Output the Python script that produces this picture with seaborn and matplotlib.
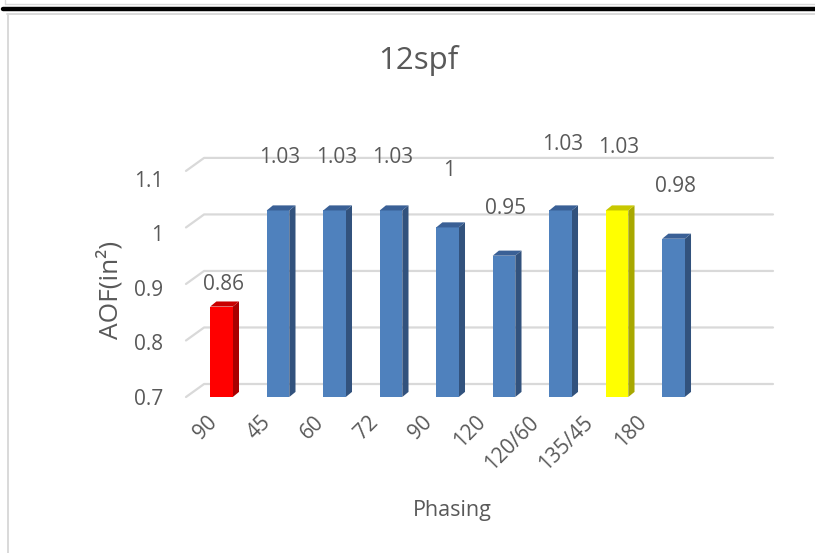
import numpy as np
import pandas as pd
import seaborn as sns
import matplotlib.pyplot as plt
import matplotlib.transforms as mtransforms
from matplotlib.lines import Line2D
from matplotlib.patches import Polygon

# chart data
phasing = ["90", "45", "60", "72", "90", "120", "120/60", "135/45", "180"]
aof = [0.86, 1.03, 1.03, 1.03, 1.00, 0.95, 1.03, 1.03, 0.98]
value_labels = ["0.86", "1.03", "1.03", "1.03", "1", "0.95", "1.03", "1.03", "0.98"]
y_ticks = [0.7, 0.8, 0.9, 1.0, 1.1]
y_tick_labels = ["0.7", "0.8", "0.9", "1", "1.1"]

# styling (Excel 3D column look)
front = {"red": "#FF0000", "blue": "#4F81BD", "yellow": "#FFFF00"}
side = {"red": "#A80000", "blue": "#32527D", "yellow": "#A8A800"}
top = {"red": "#C80000", "blue": "#3A6096", "yellow": "#C8C800"}
bar_kind = ["red", "blue", "blue", "blue", "blue", "blue", "blue", "yellow", "blue"]
label_lift = [22, 53, 53, 53, 57, 47, 66, 63, 52]  # px above bar top, as Excel placed them
text_col = "#595959"
grid_col = "#D9D9D9"

sns.set_theme(style="white")
plt.rcParams["font.family"] = ["Open Sans", "DejaVu Sans"]

W, H = 815, 553
fig = plt.figure(figsize=(W / 100, H / 100), dpi=100)
ax = fig.add_axes([186 / W, (H - 397) / H, 587 / W, 247 / H])

df = pd.DataFrame({"pos": np.arange(len(aof)), "aof": aof, "kind": bar_kind})
sns.barplot(data=df, x="pos", y="aof", hue="kind", palette=front,
            native_scale=True, width=0.4, dodge=False, saturation=1,
            legend=False, linewidth=0, ax=ax, zorder=3)
bars = sorted(ax.patches, key=lambda p: p.get_x())

ax.set_xlim(-0.628, 9.761)
ax.set_ylim(0.7, 1.137)
for s in ax.spines.values():
    s.set_visible(False)
ax.grid(False)

# back wall gridlines with the 3D slant on the left
dx_w, dy_w = 0.32, 0.023
for v in y_ticks:
    ax.add_line(Line2D([-0.628, -0.628 + dx_w, 9.761], [v, v + dy_w, v + dy_w],
                       color=grid_col, lw=1.6, zorder=1, clip_on=False))

# side and top faces of each bar
dx_b, dy_b = 0.11, 0.009
for p, kind in zip(bars, bar_kind):
    x0, w, h = p.get_x(), p.get_width(), p.get_height()
    x1 = x0 + w
    ax.add_patch(Polygon([(x1, 0.7), (x1, h), (x1 + dx_b, h + dy_b), (x1 + dx_b, 0.7 + dy_b)],
                         closed=True, color=side[kind], lw=0, zorder=2.5))
    ax.add_patch(Polygon([(x0, h), (x1, h), (x1 + dx_b, h + dy_b), (x0 + dx_b, h + dy_b)],
                         closed=True, color=top[kind], lw=0, zorder=3.5))

# data labels
for p, lab, lift in zip(bars, value_labels, label_lift):
    ax.annotate(lab, (p.get_x() + p.get_width() / 2, p.get_height()),
                xytext=(2, lift), textcoords="offset pixels",
                ha="center", va="center", fontsize=15, color=text_col,
                annotation_clip=False)

ax.set_yticks(y_ticks, y_tick_labels)
ax.set_xticks(df["pos"], phasing)
ax.tick_params(axis="y", length=0, pad=16.5, labelsize=15, labelcolor=text_col)
ax.tick_params(axis="x", length=0, pad=16, labelsize=15, labelcolor=text_col)

# the 3D floor edge is a bit narrower than the bar row, so labels drift left
for i, t in enumerate(ax.get_xticklabels()):
    t.set_rotation(45)
    t.set_rotation_mode("anchor")
    t.set_ha("right")
    t.set_va("center")
    dx = (-8 - 2.75 * i) / 100
    t.set_transform(t.get_transform() + mtransforms.ScaledTranslation(dx, 0, fig.dpi_scale_trans))
for i, t in enumerate(ax.get_yticklabels()):
    dy = (-2.0 * i) / 100
    t.set_transform(t.get_transform() + mtransforms.ScaledTranslation(0, dy, fig.dpi_scale_trans))

ax.set_xlabel("Phasing", fontsize=15.5, color=text_col)
ax.xaxis.set_label_coords(0.454, -0.4615)
ax.xaxis.label.set_va("center")
ax.set_ylabel("AOF(in²)", fontsize=19, color=text_col)
ax.yaxis.set_label_coords(-0.129, 0.433)
ax.yaxis.label.set_va("center")

fig.text(418.5 / W, 1 - 61 / H, "12spf", ha="center", va="center",
         fontsize=22.5, color=text_col)

# page borders around the chart
def hline(y, x0, x1, color, lw):
    fig.add_artist(Line2D([x0 / W, x1 / W], [1 - y / H, 1 - y / H],
                          transform=fig.transFigure, color=color, lw=lw))

def vline(x, y0, y1, color, lw):
    fig.add_artist(Line2D([x / W, x / W], [1 - y0 / H, 1 - y1 / H],
                          transform=fig.transFigure, color=color, lw=lw))

hline(3.5, 5, W, grid_col, 1.0)
vline(5, 0, 3.5, grid_col, 1.0)
hline(8.5, 3, W, "black", 3.2)
hline(13.5, 7, W, grid_col, 1.4)
vline(7.5, 13.5, H, grid_col, 1.4)

fig.savefig("out.png", dpi=100)
